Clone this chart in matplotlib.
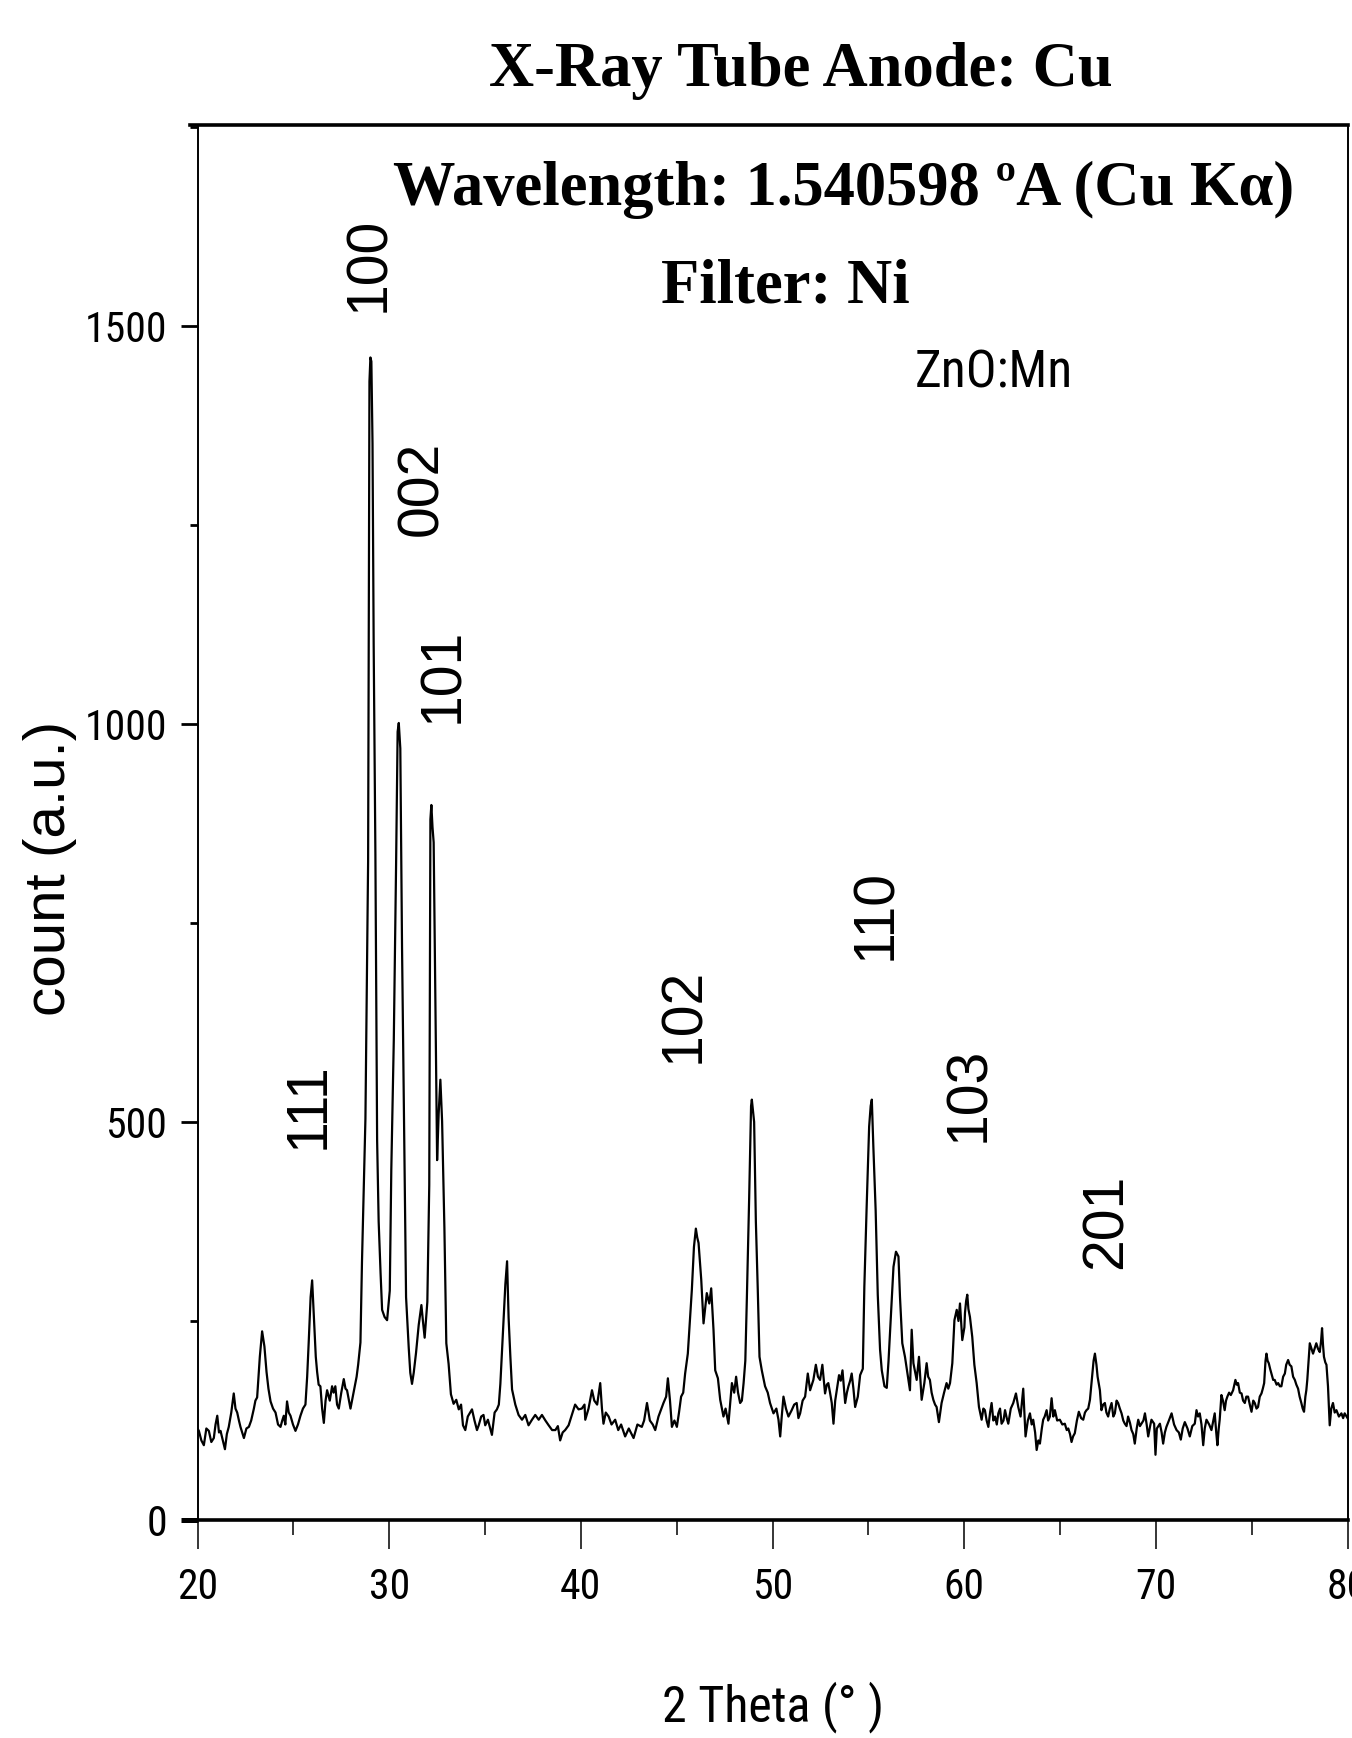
import matplotlib
matplotlib.use("Agg")
import matplotlib.pyplot as plt
from matplotlib.ticker import MultipleLocator
from matplotlib import font_manager
from matplotlib.font_manager import FontProperties

# ---------------- data ----------------
two_theta = [
    20.00, 20.07, 20.20, 20.33, 20.46, 20.59, 20.72, 20.85, 20.94, 21.03, 21.12, 21.20, 21.32, 21.43, 21.53, 21.63,
    21.76, 21.89, 21.98, 22.07, 22.16, 22.24, 22.33, 22.42, 22.55, 22.68, 22.80, 22.94, 23.02, 23.11, 23.25, 23.37,
    23.49, 23.60, 23.70, 23.81, 23.94, 24.07, 24.20, 24.33, 24.42, 24.50, 24.58, 24.67, 24.76, 24.85, 24.98, 25.11,
    25.24, 25.37, 25.50, 25.63, 25.72, 25.80, 25.90, 25.98, 26.04, 26.10, 26.17, 26.24, 26.32, 26.41, 26.50, 26.59,
    26.68, 26.76, 26.90, 27.02, 27.10, 27.19, 27.28, 27.37, 27.50, 27.63, 27.72, 27.80, 27.90, 27.98, 28.10, 28.20,
    28.30, 28.38, 28.50, 28.58, 28.76, 28.90, 28.97, 29.02, 29.07, 29.13, 29.19, 29.28, 29.37, 29.45, 29.55, 29.63,
    29.76, 29.89, 30.03,
    30.11, 30.24, 30.36, 30.44, 30.50, 30.58, 30.67, 30.79, 30.88, 31.02, 31.10, 31.19, 31.28, 31.40, 31.54, 31.68,
    31.76, 31.85, 31.99, 32.09, 32.15, 32.20, 32.26, 32.32, 32.41, 32.50, 32.58, 32.67, 32.76, 32.88, 32.98, 33.10,
    33.22, 33.36,
    33.50, 33.63, 33.75, 33.85, 33.97, 34.10, 34.32, 34.45, 34.58, 34.67, 34.80, 34.92, 35.01, 35.15, 35.36, 35.50,
    35.62, 35.72, 35.80, 35.92, 36.06, 36.15, 36.23, 36.32, 36.41, 36.58, 36.75, 36.93, 37.10, 37.27, 37.45, 37.62,
    37.80, 37.97, 38.15, 38.32, 38.50, 38.67, 38.80, 38.92, 39.05, 39.18, 39.36, 39.53, 39.70, 39.88, 40.05, 40.19,
    40.23, 40.40, 40.58, 40.70, 40.85, 41.01, 41.10, 41.18, 41.30, 41.45, 41.60, 41.79, 41.95, 42.10, 42.31, 42.50,
    42.75, 42.95, 43.18, 43.30, 43.45, 43.60, 43.75, 43.88, 44.05, 44.20, 44.31, 44.45, 44.54, 44.65, 44.75, 44.88,
    45.01, 45.12, 45.23, 45.34, 45.44, 45.58, 45.70, 45.79, 45.90, 46.00, 46.07, 46.14, 46.28, 46.40, 46.50, 46.57,
    46.70, 46.80, 46.92, 47.01, 47.15, 47.27, 47.44, 47.55, 47.70, 47.80, 47.88, 48.00, 48.10, 48.20, 48.31, 48.40,
    48.49, 48.58, 48.66, 48.78, 48.88, 48.92, 49.04, 49.13, 49.23, 49.32, 49.44, 49.61, 49.75, 49.87, 50.05,
    50.20, 50.31, 50.40, 50.48, 50.57, 50.70, 50.83, 51.00, 51.13, 51.26, 51.35, 51.44, 51.57, 51.70, 51.84, 51.96,
    52.05, 52.13, 52.26, 52.37, 52.48, 52.60, 52.74, 52.83, 52.91, 53.00, 53.09, 53.18, 53.27, 53.35, 53.47, 53.56,
    53.65, 53.79, 53.88, 53.96, 54.05, 54.13, 54.22, 54.31, 54.45, 54.57, 54.71, 54.79, 54.91, 55.04, 55.12, 55.18,
    55.26, 55.38, 55.49, 55.61, 55.70, 55.84, 55.96, 56.05, 56.18, 56.31, 56.44, 56.57, 56.65, 56.77, 56.91, 57.05,
    57.17, 57.26, 57.35, 57.45, 57.52, 57.64, 57.78, 57.92, 58.04, 58.12, 58.21, 58.30, 58.39, 58.48, 58.56, 58.68,
    58.82, 58.95, 59.08, 59.17, 59.26, 59.38, 59.49, 59.61, 59.70, 59.78, 59.90, 60.01,
    60.04, 60.10, 60.16, 60.22, 60.30, 60.42, 60.53, 60.65, 60.77, 60.91, 61.00, 61.08, 61.17, 61.26, 61.35, 61.43,
    61.52, 61.61, 61.70, 61.78, 61.87, 61.95, 62.05, 62.13, 62.22, 62.30, 62.43, 62.56, 62.70, 62.82, 62.94, 63.08,
    63.20, 63.32, 63.43, 63.52, 63.60, 63.70, 63.78, 63.87, 63.95, 64.05, 64.12, 64.20, 64.30, 64.38, 64.47, 64.56,
    64.65, 64.73, 64.85, 64.99, 65.12, 65.25, 65.35, 65.43, 65.52, 65.60, 65.68, 65.77, 65.88, 65.98, 66.10, 66.21,
    66.30, 66.38, 66.47, 66.56, 66.68, 66.75, 66.82, 66.90, 66.96, 67.08, 67.16, 67.25, 67.34, 67.42, 67.51, 67.60,
    67.69, 67.78, 67.86, 67.95, 68.03, 68.12, 68.21, 68.30, 68.38, 68.47, 68.55, 68.65, 68.73, 68.82, 68.90, 69.00,
    69.08, 69.17, 69.25, 69.35, 69.43, 69.52, 69.60, 69.70, 69.77, 69.91, 69.98,
    70.05, 70.21, 70.30, 70.38, 70.47, 70.55, 70.68, 70.82, 70.95, 71.08, 71.20, 71.30, 71.40, 71.51, 71.65, 71.77,
    71.90, 72.03, 72.12, 72.20, 72.29, 72.38, 72.47, 72.55, 72.64, 72.78, 72.90, 73.00, 73.07, 73.15, 73.21, 73.28,
    73.33, 73.42, 73.50, 73.59, 73.66, 73.73, 73.82, 73.91, 74.03, 74.15, 74.22, 74.29, 74.38, 74.47, 74.55, 74.64,
    74.72, 74.81, 74.90, 74.99, 75.08, 75.16, 75.25, 75.33, 75.42, 75.51, 75.58, 75.65, 75.72, 75.77, 75.83, 75.89,
    75.96, 76.03, 76.12, 76.20, 76.30, 76.38, 76.47, 76.55, 76.64, 76.73, 76.80, 76.90, 76.98, 77.07, 77.16, 77.25,
    77.33, 77.42, 77.50, 77.59, 77.66, 77.73, 77.80, 77.85, 77.90, 77.94, 78.03, 78.12, 78.20, 78.28, 78.37, 78.46,
    78.55, 78.62, 78.67, 78.72, 78.77, 78.84, 78.90, 78.98, 79.07, 79.15, 79.24, 79.33, 79.42, 79.55, 79.68, 79.77,
    79.85, 79.95, 80.00,
]

counts = [
    115, 112, 100, 94, 115, 112, 98, 103, 120, 131, 110, 112, 100, 89, 108, 117,
    135, 159, 140, 135, 125, 117, 110, 103, 115, 117, 125, 140, 150, 154, 205, 237,
    218, 186, 165, 149, 140, 135, 120, 117, 125, 131, 120, 149, 135, 131, 120, 112,
    120, 131, 140, 145, 180, 223, 280, 301, 270, 241, 205, 186, 170, 168, 140, 122,
    150, 163, 150, 168, 160, 168, 145, 140, 160, 177, 165, 163, 150, 140, 155, 168,
    180, 195, 223, 324, 504, 827, 1430, 1460, 1455, 1352, 1100, 836, 477, 375, 310, 264,
    255, 251, 288,
    440, 603, 824, 990, 1001, 969, 719, 469, 280, 216, 185, 171, 185, 210, 245, 270,
    250, 229, 274, 421, 880, 898, 870, 851, 646, 452, 510, 553, 501, 367, 222, 196,
    158, 146,
    151, 139, 145, 119, 113, 130, 139, 125, 113, 119, 130, 132, 119, 126, 107, 135,
    139, 145, 171, 229, 296, 325, 254, 206, 164, 145, 132, 126, 132, 119, 126, 132,
    126, 132, 125, 119, 113, 113, 118, 100, 110, 113, 119, 132, 145, 139, 140, 145,
    126, 140, 163, 150, 145, 172, 140, 121, 135, 130, 120, 126, 113, 120, 105, 115,
    103, 120, 117, 125, 147, 125, 120, 113, 130, 140, 147, 155, 178, 150, 117, 125,
    117, 135, 155, 160, 184, 209, 255, 289, 343, 366, 355, 348, 302, 247, 270, 285,
    272, 291, 239, 188, 178, 151, 130, 140, 121, 150, 172, 160, 180, 160, 147, 150,
    172, 200, 278, 404, 520, 528, 500, 375, 289, 205, 188, 168, 160, 147, 134,
    140, 126, 105, 130, 155, 140, 130, 138, 145, 147, 128, 134, 150, 155, 184, 163,
    170, 176, 195, 180, 176, 195, 159, 170, 172, 160, 147, 121, 150, 163, 182, 175,
    188, 147, 160, 168, 175, 184, 165, 142, 155, 182, 190, 293, 393, 494, 520, 528,
    469, 389, 283, 214, 188, 168, 166, 199, 259, 318, 337, 331, 280, 222, 205, 182,
    163, 239, 197, 185, 176, 205, 151, 172, 197, 180, 176, 160, 151, 145, 142, 123,
    147, 160, 172, 165, 172, 197, 251, 264, 250, 272, 226, 242,
    260, 275, 283, 265, 255, 230, 195, 172, 142, 126, 140, 138, 125, 117, 135, 147,
    125, 130, 120, 134, 140, 121, 125, 138, 128, 121, 140, 147, 159, 142, 130, 165,
    105, 125, 134, 120, 126, 110, 88, 100, 96, 115, 126, 130, 138, 125, 130, 153,
    130, 138, 125, 126, 120, 121, 113, 115, 108, 98, 105, 109, 125, 136, 128, 126,
    135, 138, 140, 151, 182, 200, 209, 195, 180, 163, 138, 145, 147, 135, 130, 140,
    147, 130, 134, 150, 147, 140, 134, 125, 121, 118, 130, 122, 113, 108, 96, 115,
    126, 118, 121, 125, 134, 120, 105, 118, 126, 121, 82,
    115, 121, 110, 96, 110, 117, 125, 134, 120, 113, 110, 101, 115, 123, 115, 105,
    118, 121, 138, 130, 134, 120, 94, 115, 126, 120, 113, 125, 134, 110, 94, 115,
    126, 157, 150, 138, 150, 155, 160, 157, 163, 176, 170, 172, 160, 159, 150, 147,
    155, 155, 145, 136, 150, 147, 140, 142, 155, 159, 165, 172, 200, 209, 200, 197,
    190, 184, 176, 176, 170, 172, 168, 168, 180, 184, 195, 201, 195, 193, 180, 176,
    170, 165, 155, 147, 140, 136, 155, 163, 176, 190, 222, 215, 209, 215, 222, 215,
    211, 225, 241, 220, 205, 198, 195, 168, 119, 140, 147, 135, 138, 130, 134, 128,
    134, 130, 128,
]

peak_labels = ["100", "002", "101", "111", "102", "110", "103", "201"]
peak_label_x = [28.97, 31.71, 32.80, 25.79, 45.37, 55.42, 60.28, 67.42]
peak_label_y = [1577, 1296, 1061, 521, 634, 761, 534, 375]

x_major_ticks = [20, 30, 40, 50, 60, 70, 80]
y_major_ticks = [0, 500, 1000, 1500]

title_text = "X-Ray Tube Anode: Cu"
wavelength_text = "Wavelength: 1.540598 \u00baA (Cu K\u03b1)"
filter_text = "Filter: Ni"
sample_text = "ZnO:Mn"
x_label = "2 Theta (\u00b0 )"
y_label = "count (a.u.)"

# ---------------- fonts ----------------
ARIAL = ["Liberation Sans", "DejaVu Sans"]
SERIF = ["Liberation Serif", "DejaVu Serif"]


def find_condensed_font():
    cands = []
    for f in font_manager.fontManager.ttflist:
        name = f.name
        low = (name + " " + str(f.fname)).lower()
        if any(k in low for k in ("mono", "serif", "bold", "italic", "oblique", "cjk")):
            continue
        is_cond = ("narrow" in low or "condensed" in low
                   or str(f.stretch) in ("condensed", "semi-condensed", "extra-condensed"))
        if is_cond and f.weight in (400, "normal", "regular", 300, "light"):
            cands.append(f.fname)
    pref = ["liberationsansnarrow-regular", "robotocondensed-regular", "robotocondensed-light",
            "opensanscondensed", "dejavusanscondensed"]
    for p in pref:
        for c in cands:
            if p in c.lower().replace("_", "").replace(" ", ""):
                return c
    return cands[0] if cands else None


cond_path = find_condensed_font()


def narrow_fp(size_cond, size_plain):
    if cond_path:
        return FontProperties(fname=cond_path, size=size_cond)
    return FontProperties(family=ARIAL, size=size_plain)


plt.rcParams["font.family"] = ARIAL

# ---------------- figure ----------------
fig = plt.figure(figsize=(13.52, 17.38), dpi=100)
ax = fig.add_axes([0.1461, 0.1254, 0.8506, 0.8027])

ax.plot(two_theta, counts, color="black", lw=1.6)

ax.set_xlim(20, 80)
ax.set_ylim(0, 1752)
ax.set_xticks(x_major_ticks)
ax.set_yticks(y_major_ticks)
ax.xaxis.set_minor_locator(MultipleLocator(5))
ax.yaxis.set_minor_locator(MultipleLocator(250))

ax.tick_params(axis="x", which="major", direction="out", length=21, width=1.1, pad=13, top=False)
ax.tick_params(axis="x", which="minor", direction="out", length=11, width=1.1, top=False)
ax.tick_params(axis="y", which="major", direction="out", length=12, width=2.0, pad=10, right=False)
ax.tick_params(axis="y", which="minor", direction="out", length=6, width=2.0, right=False)

tick_fp = narrow_fp(30, 26)
for lbl in ax.get_xticklabels() + ax.get_yticklabels():
    lbl.set_fontproperties(tick_fp)

# the zero tick merges with the heavy bottom frame line
ax.yaxis.get_major_ticks()[0].tick1line.set_markeredgewidth(3.6)

for side in ("top", "bottom"):
    ax.spines[side].set_linewidth(2.6)
for side in ("left", "right"):
    ax.spines[side].set_linewidth(1.4)
ax.spines["top"].set_bounds(19.6, 80)

ax.set_ylabel(y_label, fontsize=42, family=ARIAL, va="center")
ax.yaxis.set_label_coords(-0.1285, 0.467)
ax.set_xlabel(x_label, fontproperties=narrow_fp(36, 31), va="baseline")
ax.xaxis.set_label_coords(0.5, -0.1445)

for lab, px, py in zip(peak_labels, peak_label_x, peak_label_y):
    ax.text(px, py, lab, rotation=90, ha="center", va="center",
            fontsize=41, family=ARIAL, color="black")

fig.text(0.592, 0.9503, title_text, ha="center", va="baseline",
         fontsize=45, fontweight="bold", family=SERIF)
fig.text(0.624, 0.882, wavelength_text, ha="center", va="baseline",
         fontsize=45, fontweight="bold", family=SERIF)
fig.text(0.581, 0.826, filter_text, ha="center", va="baseline",
         fontsize=45, fontweight="bold", family=SERIF)
fig.text(0.735, 0.7768, sample_text, ha="center", va="baseline",
         fontproperties=narrow_fp(37, 32))

fig.savefig("out.png", dpi=100, facecolor="white")
